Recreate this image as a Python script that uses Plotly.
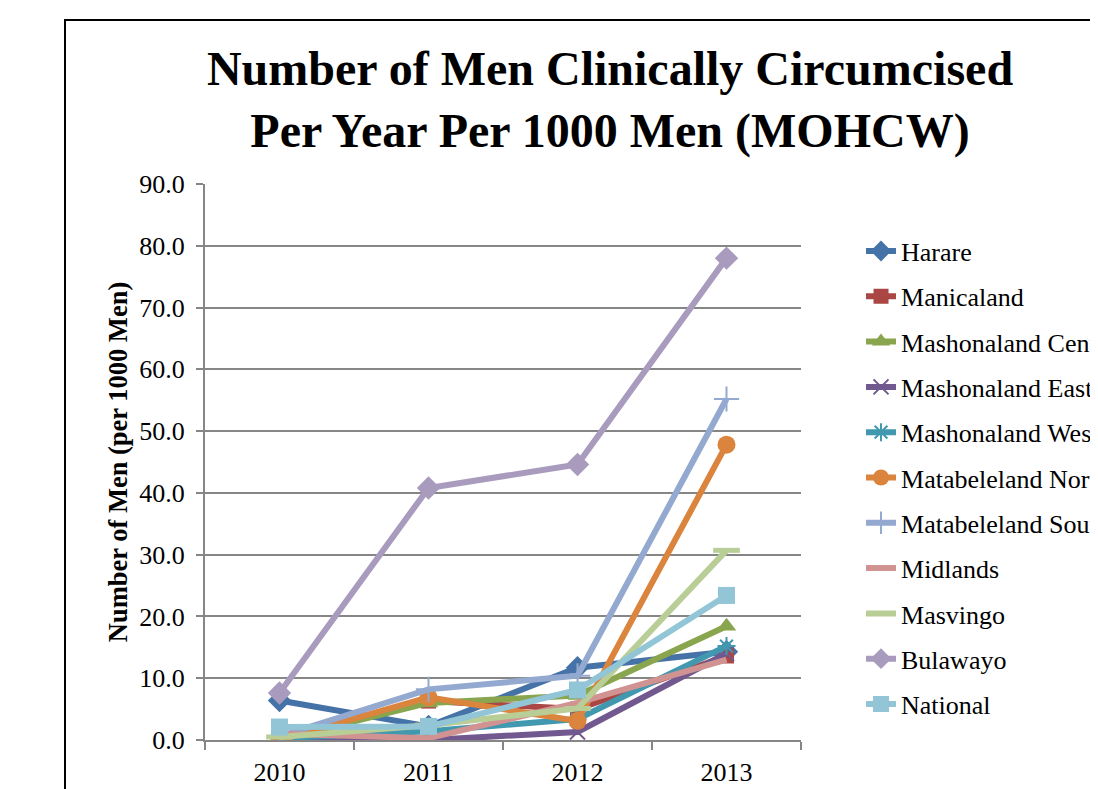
import plotly.graph_objects as go

years = ["2010", "2011", "2012", "2013"]

harare = [6.4, 2.2, 11.7, 14.3]
manicaland = [0.0, 6.3, 5.0, 13.6]
mash_central = [0.0, 6.0, 7.2, 18.4]
mash_east = [0.0, 0.0, 1.3, 14.0]
mash_west = [0.3, 1.4, 3.4, 15.2]
mat_north = [0.0, 6.9, 3.1, 47.8]
mat_south = [0.6, 8.2, 10.4, 55.2]
midlands = [1.0, 0.3, 6.0, 13.0]
masvingo = [0.5, 2.4, 5.1, 30.7]
bulawayo = [7.6, 40.8, 44.6, 78.0]
national = [2.1, 2.2, 8.1, 23.4]

FONT = "Liberation Serif"
GRID = "#868686"

# name, values, colour, marker symbol, marker size
series = [
    ("Harare", harare, "#4572A7", "diamond", 18),
    ("Manicaland", manicaland, "#AA4643", "square", 15),
    ("Mashonaland Central", mash_central, "#89A54E", "triangle-up", 17),
    ("Mashonaland East", mash_east, "#71588F", "x-thin-open", 15),
    ("Mashonaland West", mash_west, "#4198AF", "asterisk-open", 15),
    ("Matabeleland North", mat_north, "#DB843D", "circle", 18),
    ("Matabeleland South", mat_south, "#93A9CF", "cross-thin-open", 18),
    ("Midlands", midlands, "#D19392", None, 0),
    ("Masvingo", masvingo, "#B9CD96", "line-ew-open", 19),
    ("Bulawayo", bulawayo, "#A99BBD", "diamond", 18),
    ("National", national, "#92C5D6", "square", 17),
]

fig = go.Figure()
for i, (name, vals, col, sym, size) in enumerate(series):
    if sym is None:
        fig.add_trace(go.Scatter(
            x=years, y=vals, name=name, mode="lines", legendgroup=str(i),
            line=dict(color=col, width=6),
        ))
        continue
    open_sym = sym.endswith("-open")
    fig.add_trace(go.Scatter(
        x=years, y=vals, name=name, mode="lines+markers", legendgroup=str(i),
        line=dict(color=col, width=6),
        marker=dict(
            symbol=sym, size=size, color=col,
            line=dict(color=col, width=(5 if sym == "line-ew-open" else 2) if open_sym else 0),
        ),
    ))

# plot area in page px: left 197, right 793, top 176, bottom 732 (page body adds 8px)
fig.update_layout(
    width=1098,
    height=789,
    margin=dict(l=197, r=305, t=176, b=57, autoexpand=False),
    paper_bgcolor="white",
    plot_bgcolor="white",
    font=dict(family=FONT, color="black", size=26),
    title=dict(
        text="<b>Number of Men Clinically Circumcised<br>Per Year Per 1000 Men (MOHCW)</b>",
        font=dict(family=FONT, size=48, color="black"),
        x=602 / 1098, xanchor="center",
        y=1 - 77 / 789, yanchor="top",
    ),
    legend=dict(
        x=1.1007, xanchor="left", y=0.9216, yanchor="top",
        font=dict(family=FONT, size=26),
        tracegroupgap=8.5,
        bgcolor="rgba(0,0,0,0)",
    ),
    shapes=[dict(
        type="rect", xref="paper", yref="paper",
        x0=(57 - 197) / 596, x1=2.0, y0=-1.0, y1=(732 - 12) / 556,
        line=dict(color="black", width=2), fillcolor="rgba(0,0,0,0)",
        layer="below",
    )],
)

fig.update_xaxes(
    type="category",
    range=[-0.5, 3.5],
    showgrid=False,
    showline=True, linecolor=GRID, linewidth=2,
    ticks="outside", tickson="boundaries", ticklen=8, tickcolor=GRID, tickwidth=2,
    tickfont=dict(family=FONT, size=26),
    ticklabelstandoff=8,
)
fig.update_yaxes(
    range=[0, 90],
    dtick=10,
    tickformat=".1f",
    showgrid=True, gridcolor=GRID, gridwidth=2,
    zeroline=False,
    showline=True, linecolor=GRID, linewidth=2,
    ticks="outside", ticklen=7, tickcolor=GRID, tickwidth=2,
    tickfont=dict(family=FONT, size=26),
    ticklabelstandoff=6,
    title=dict(text="<b>Number of Men (per 1000 Men)</b>", font=dict(family=FONT, size=26.5), standoff=4),
)

fig.write_html("out.html")
